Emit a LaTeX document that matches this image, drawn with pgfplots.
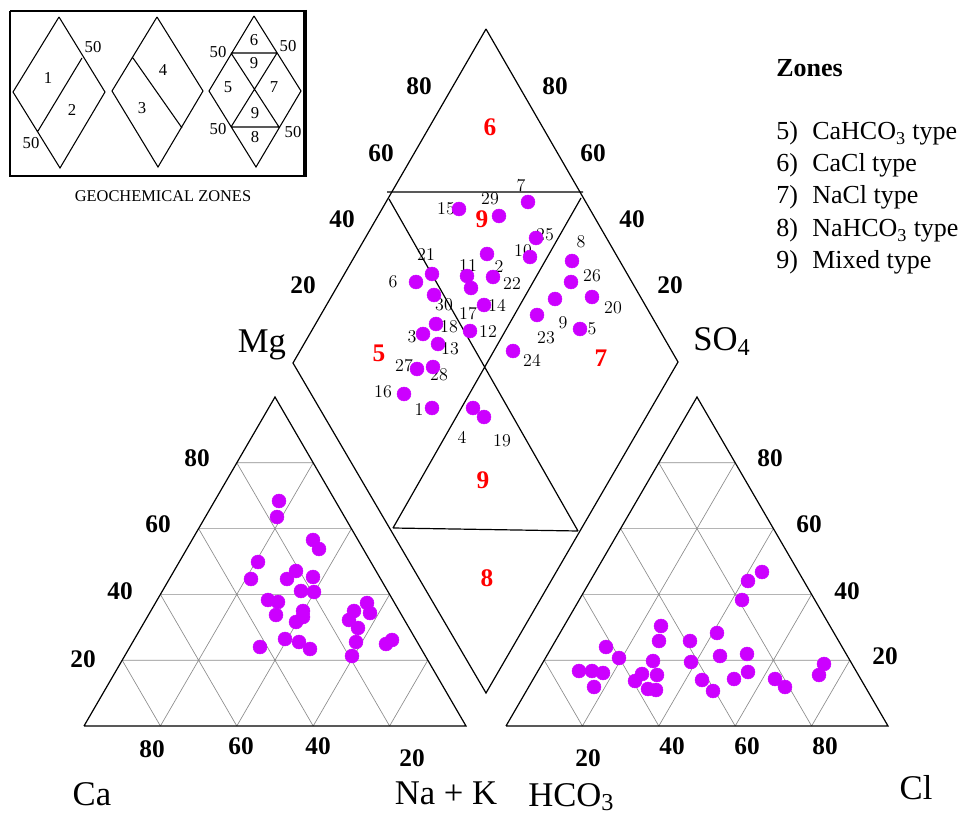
\documentclass[border=0pt]{standalone}
\usepackage{pgfplots}
\pgfplotsset{compat=1.18}
\usepackage{fontspec}
\newfontfamily\tnr{Liberation Serif}
\definecolor{dotc}{RGB}{204,0,255}
\definecolor{gridc}{RGB}{140,140,140}
\begin{document}
\begin{tikzpicture}[
  tl/.style={font=\tnr\fontsize{19}{19}\selectfont\bfseries, inner sep=0pt},
  al/.style={font=\tnr\fontsize{26}{26}\selectfont, inner sep=0pt},
  zl/.style={font=\tnr\fontsize{19}{19}\selectfont\bfseries, text=red, inner sep=0pt},
  sl/.style={font=\fontsize{13.5}{13.5}\selectfont, inner sep=0pt},
  lg/.style={font=\tnr\fontsize{19.5}{19.5}\selectfont, inner sep=0pt},
  il/.style={font=\tnr\fontsize{12.5}{12.5}\selectfont, inner sep=0pt}]
\begin{axis}[scale only axis, width=723pt, height=612pt,
  xmin=0, xmax=964, ymin=0, ymax=816, y dir=reverse,
  axis lines=none, clip=false, unbounded coords=jump]

% ---------- ternary grids ----------
\addplot[gridc, line width=0.5pt] coordinates {
 (122.2,660.2)(427.8,660.2) (nan,nan)
 (160.4,594.4)(389.6,594.4) (nan,nan)
 (198.6,528.6)(351.4,528.6) (nan,nan)
 (236.8,462.8)(313.2,462.8) (nan,nan)
 (160.4,726)(313.2,462.8) (nan,nan)
 (236.8,726)(351.4,528.6) (nan,nan)
 (313.2,726)(389.6,594.4) (nan,nan)
 (389.6,726)(427.8,660.2) (nan,nan)
 (160.4,726)(122.2,660.2) (nan,nan)
 (236.8,726)(160.4,594.4) (nan,nan)
 (313.2,726)(198.6,528.6) (nan,nan)
 (389.6,726)(236.8,462.8)};
\addplot[gridc, line width=0.5pt] coordinates {
 (544.2,660.2)(849.8,660.2) (nan,nan)
 (582.4,594.4)(811.6,594.4) (nan,nan)
 (620.6,528.6)(773.4,528.6) (nan,nan)
 (658.8,462.8)(735.2,462.8) (nan,nan)
 (582.4,726)(735.2,462.8) (nan,nan)
 (658.8,726)(773.4,528.6) (nan,nan)
 (735.2,726)(811.6,594.4) (nan,nan)
 (811.6,726)(849.8,660.2) (nan,nan)
 (582.4,726)(544.2,660.2) (nan,nan)
 (658.8,726)(582.4,594.4) (nan,nan)
 (735.2,726)(620.6,528.6) (nan,nan)
 (811.6,726)(658.8,462.8)};

% ---------- outlines ----------
\addplot[black, line width=0.9pt] coordinates {(84,726)(466,726)(275,397)(84,726)};
\addplot[black, line width=0.9pt] coordinates {(506,726)(888,726)(697,397)(506,726)};
\addplot[black, line width=0.9pt] coordinates {(486,29)(293,363)(486,693)(678,362)(486,29)};
\addplot[black, line width=0.9pt] coordinates {
 (387,192)(583,192) (nan,nan)
 (393,528)(578,531) (nan,nan)
 (389,199)(578,531) (nan,nan)
 (581,198)(393,528)};

% ---------- inset ----------
\addplot[black, line width=1.2pt] coordinates {(10,11)(305,11)(305,176)(10,176)(10,11)};
\addplot[black, line width=3pt] coordinates {(305,10)(305,177)};
\addplot[black, line width=0.8pt] coordinates {
 (59,17)(13,92)(60,168)(105,92)(59,17) (nan,nan)
 (82,58)(38,131) (nan,nan)
 (157,17)(112,91)(158,167)(203,91)(157,17) (nan,nan)
 (133,58)(182,128) (nan,nan)
 (254,16)(209,91)(256,167)(301,91)(254,16) (nan,nan)
 (231,53)(277,53) (nan,nan)
 (231,127)(279,127) (nan,nan)
 (231,53)(279,127) (nan,nan)
 (277,53)(231,127)};
\node[il] at (axis cs:48,78) {1};
\node[il] at (axis cs:72,110) {2};
\node[il] at (axis cs:93,47) {50};
\node[il] at (axis cs:31,143) {50};
\node[il] at (axis cs:163,70) {4};
\node[il] at (axis cs:142,108) {3};
\node[il] at (axis cs:254,40) {6};
\node[il] at (axis cs:254,63) {9};
\node[il] at (axis cs:228,87) {5};
\node[il] at (axis cs:274,87) {7};
\node[il] at (axis cs:255,113) {9};
\node[il] at (axis cs:255,137) {8};
\node[il] at (axis cs:218,52) {50};
\node[il] at (axis cs:288,46) {50};
\node[il] at (axis cs:218,129) {50};
\node[il] at (axis cs:293,132) {50};
\node[font=\tnr\fontsize{12.3}{12.3}\selectfont, inner sep=0pt] at (axis cs:163,196) {GEOCHEMICAL ZONES};

% ---------- tick labels ----------
\node[tl] at (axis cs:419,86) {80};
\node[tl] at (axis cs:381,153) {60};
\node[tl] at (axis cs:342,219) {40};
\node[tl] at (axis cs:303,285) {20};
\node[tl] at (axis cs:555,86) {80};
\node[tl] at (axis cs:593,153) {60};
\node[tl] at (axis cs:632,219) {40};
\node[tl] at (axis cs:670,285) {20};
\node[tl] at (axis cs:197,458) {80};
\node[tl] at (axis cs:158,524) {60};
\node[tl] at (axis cs:120,591) {40};
\node[tl] at (axis cs:83,659) {20};
\node[tl] at (axis cs:152,749) {80};
\node[tl] at (axis cs:241,746) {60};
\node[tl] at (axis cs:318,746) {40};
\node[tl] at (axis cs:412,758) {20};
\node[tl] at (axis cs:770,458) {80};
\node[tl] at (axis cs:809,524) {60};
\node[tl] at (axis cs:847,591) {40};
\node[tl] at (axis cs:885,656) {20};
\node[tl] at (axis cs:588,758) {20};
\node[tl] at (axis cs:672,746) {40};
\node[tl] at (axis cs:747,746) {60};
\node[tl] at (axis cs:825,746) {80};

% ---------- axis names ----------
\node[al, anchor=base] at (axis cs:262,353) {Mg};
\node[al, anchor=base west] at (axis cs:693,351) {SO\textsubscript{4}};
\node[al, anchor=base] at (axis cs:92,805) {Ca};
\node[al, anchor=base] at (axis cs:446,804) {Na + K};
\node[al, anchor=base west] at (axis cs:528,806) {HCO\textsubscript{3}};
\node[al, anchor=base] at (axis cs:916,799) {Cl};

% ---------- zone numbers ----------
\node[zl] at (axis cs:490,127) {6};
\node[zl] at (axis cs:482,219) {9};
\node[zl] at (axis cs:379,353) {5};
\node[zl] at (axis cs:601,358) {7};
\node[zl] at (axis cs:483,480) {9};
\node[zl] at (axis cs:487,578) {8};

% ---------- legend ----------
\node[lg, font=\tnr\fontsize{19.5}{19.5}\selectfont\bfseries, anchor=base west] at (axis cs:776,77) {Zones};
\node[lg, anchor=base west] at (axis cs:776,140) {5)};
\node[lg, anchor=base west] at (axis cs:812,140) {CaHCO\textsubscript{3} type};
\node[lg, anchor=base west] at (axis cs:776,172) {6)};
\node[lg, anchor=base west] at (axis cs:812,172) {CaCl type};
\node[lg, anchor=base west] at (axis cs:776,204) {7)};
\node[lg, anchor=base west] at (axis cs:812,204) {NaCl type};
\node[lg, anchor=base west] at (axis cs:776,237) {8)};
\node[lg, anchor=base west] at (axis cs:812,237) {NaHCO\textsubscript{3} type};
\node[lg, anchor=base west] at (axis cs:776,269) {9)};
\node[lg, anchor=base west] at (axis cs:812,269) {Mixed type};

% ---------- sample numbers ----------
\node[sl] at (axis cs:446,209) {15};
\node[sl] at (axis cs:490,199) {29};
\node[sl] at (axis cs:521,186) {7};
\node[sl] at (axis cs:545,235) {25};
\node[sl] at (axis cs:523,251) {10};
\node[sl] at (axis cs:426,255) {21};
\node[sl] at (axis cs:393,282) {6};
\node[sl] at (axis cs:468,266) {11};
\node[sl] at (axis cs:499,267) {2};
\node[sl] at (axis cs:512,284) {22};
\node[sl] at (axis cs:444,305) {30};
\node[sl] at (axis cs:468,314) {17};
\node[sl] at (axis cs:497,305) {14};
\node[sl] at (axis cs:449,327) {18};
\node[sl] at (axis cs:488,332) {12};
\node[sl] at (axis cs:412,337) {3};
\node[sl] at (axis cs:450,349) {13};
\node[sl] at (axis cs:404,366) {27};
\node[sl] at (axis cs:439,375) {28};
\node[sl] at (axis cs:383,392) {16};
\node[sl] at (axis cs:419,410) {1};
\node[sl] at (axis cs:462,437) {4};
\node[sl] at (axis cs:502,441) {19};
\node[sl] at (axis cs:581,242) {8};
\node[sl] at (axis cs:592,276) {26};
\node[sl] at (axis cs:613,308) {20};
\node[sl] at (axis cs:563,323) {9};
\node[sl] at (axis cs:592,329) {5};
\node[sl] at (axis cs:546,338) {23};
\node[sl] at (axis cs:532,360) {24};

% ---------- data points ----------
% diamond
\addplot[dotc, only marks, mark=*, mark size=5.2pt, mark options={draw=dotc, fill=dotc}] coordinates {
 (459,209)(499,216)(528,202)(536,238)(530,257)(487,254)(493,277)(467,276)
 (471,288)(432,274)(416,282)(434,295)(484,305)(436,324)(470,331)(423,334)
 (438,344)(417,369)(433,367)(404,394)(432,408)(473,408)(484,417)(572,261)
 (571,282)(592,297)(555,299)(537,315)(580,329)(513,351)};
% cation triangle
\addplot[dotc, only marks, mark=*, mark size=5.2pt, mark options={draw=dotc, fill=dotc}] coordinates {
 (279,501)(277,517)(313,540)(319,549)(258,562)(251,579)(296,571)(287,579)
 (313,577)(301,591)(314,592)(268,600)(278,602)(276,615)(303,611)(303,617)
 (296,622)(285,639)(299,642)(310,649)(260,647)(354,611)(367,603)(370,613)
 (349,620)(358,628)(356,642)(352,656)(386,644)(392,640)};
% anion triangle
\addplot[dotc, only marks, mark=*, mark size=5.2pt, mark options={draw=dotc, fill=dotc}] coordinates {
 (762,572)(748,581)(742,600)(661,626)(659,641)(690,641)(717,633)(606,647)
 (619,658)(653,661)(691,662)(720,656)(747,654)(748,672)(824,664)(819,675)
 (579,671)(592,671)(603,673)(594,687)(635,681)(642,674)(657,675)(648,689)
 (656,690)(702,680)(713,691)(734,679)(775,679)(785,687)};
\end{axis}
\pgfresetboundingbox
\path[use as bounding box] (current axis.south west) rectangle (current axis.north east);
\end{tikzpicture}
\end{document}
